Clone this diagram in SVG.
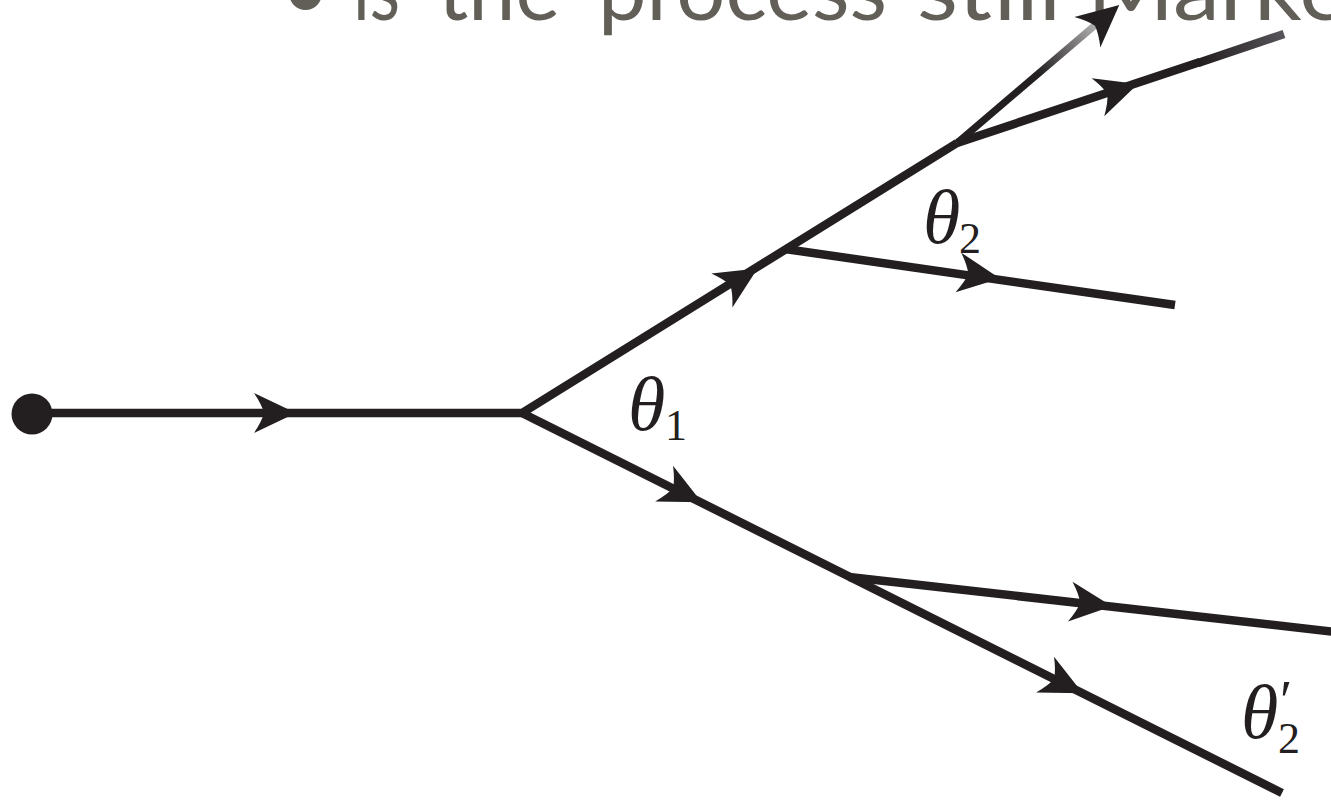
<svg xmlns="http://www.w3.org/2000/svg" width="1331" height="800" viewBox="0 0 1331 800">
<style>
.ln{fill:none;stroke:#231f20;stroke-width:8.5;stroke-linecap:butt;stroke-linejoin:miter}
.ah{fill:#231f20}
.hd{font-family:Lato,"Open Sans",sans-serif;font-size:88px;fill:#625f58}
.th{font-family:"Liberation Serif","DejaVu Serif",serif;font-style:italic;fill:#231f20}
.sb{font-family:"Liberation Serif","DejaVu Serif",serif;fill:#231f20}
</style>
<defs>
<path id="arr" d="M3,0 L-39,-20 Q-31,-8 -29,0 Q-31,8 -39,20 Z"/>
<linearGradient id="fadeG" gradientUnits="userSpaceOnUse" x1="1040" y1="76" x2="1118" y2="8">
<stop offset="0" stop-color="#231f20"/>
<stop offset="1" stop-color="#e4e4e4"/>
</linearGradient>
<linearGradient id="fadeR" gradientUnits="userSpaceOnUse" x1="1200" y1="62" x2="1284" y2="34">
<stop offset="0" stop-color="#231f20"/>
<stop offset="1" stop-color="#57545a"/>
</linearGradient>
</defs>
<g id="title">
<text class="hd" y="20" x="280">•</text>
<text class="hd" y="20" x="353" textLength="47" lengthAdjust="spacingAndGlyphs">is</text>
<text class="hd" y="20" x="438" textLength="122" lengthAdjust="spacingAndGlyphs">the</text>
<text class="hd" y="20" x="598" textLength="289" lengthAdjust="spacingAndGlyphs">process</text>
<text class="hd" y="20" x="917" textLength="144" lengthAdjust="spacingAndGlyphs">still</text>
<text class="hd" y="20" x="1087" textLength="262" lengthAdjust="spacingAndGlyphs">Marke</text>
</g>
<g id="connectors">
<path class="ln" d="M32,413 L522,413 L957,143"/>
<path class="ln" d="M522,413 L1282,793"/>
<path class="ln" d="M785,249 L1175,305"/>
<path class="ln" d="M957,143 L1200,62"/>
<path d="M1198,63 L1284,34" fill="none" stroke="url(#fadeR)" stroke-width="8.5"/>
<path d="M957,143 L1100,21" fill="none" stroke="url(#fadeG)" stroke-width="7"/>
<path class="ln" d="M849,577 L1336,632"/>
<use href="#arr" class="ah" transform="translate(293,413)"/>
<use href="#arr" class="ah" transform="translate(755,270) rotate(-31.8)"/>
<use href="#arr" class="ah" transform="translate(997,278) rotate(8.2)"/>
<use href="#arr" class="ah" transform="translate(1135,85) rotate(-18.3)"/>
<use href="#arr" fill="url(#fadeG)" transform="translate(1117,7) rotate(-40.5)"/>
<use href="#arr" class="ah" transform="translate(699,501) rotate(26.57)"/>
<use href="#arr" class="ah" transform="translate(1109,606) rotate(6.5)"/>
<use href="#arr" class="ah" transform="translate(1080,692) rotate(26.57)"/>
</g>
<g id="start">
<circle cx="32" cy="414" r="20.5" fill="#231f20"/>
</g>
<g id="label-theta1">
<text class="th" x="628" y="430" font-size="76">θ</text>
<text class="sb" x="665" y="440" font-size="44">1</text>
</g>
<g id="label-theta2">
<text class="th" x="923" y="243" font-size="76">θ</text>
<text class="sb" x="959" y="253" font-size="44">2</text>
</g>
<g id="label-theta2p">
<text class="th" x="1241" y="738" font-size="76">θ</text>
<text class="sb" x="1280" y="720" font-size="56">′</text>
<text class="sb" x="1278" y="753" font-size="44">2</text>
</g>
</svg>
